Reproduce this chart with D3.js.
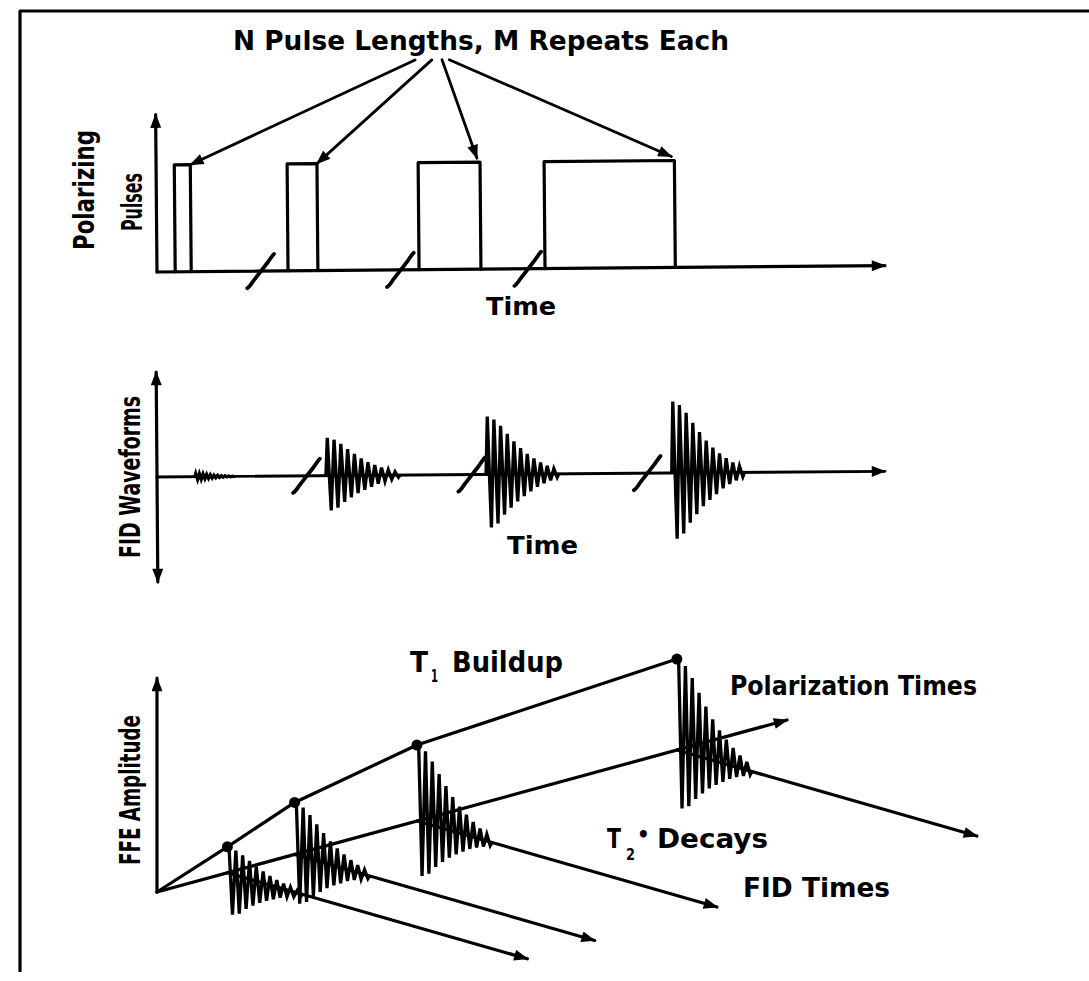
<!DOCTYPE html>
<html>
<head>
<meta charset="utf-8">
<script src="https://cdn.jsdelivr.net/npm/d3@7"></script>
<style>
body { margin: 0; background: #fff; }
svg { display: block; }
.ink { stroke: #000; fill: none; stroke-width: 3.2; stroke-linecap: round; stroke-linejoin: round; }
.wave { stroke: #000; fill: none; stroke-width: 3.3; stroke-linejoin: miter; }
text { font-family: 'DejaVu Sans Condensed', 'DejaVu Sans', 'Liberation Sans', Arial, sans-serif; font-stretch: condensed; font-weight: bold; fill: #000; }
</style>
</head>
<body>
<div id="fig"></div>
<script>
// Polarizing pulses (time units on the top axis)
var pulseStart = [2.5, 18.0, 36.0, 53.3],
    pulseLen   = [2.2, 4.1, 8.5, 17.9],
    pulseBreaks = [14.3, 33.5, 51.0],
    fanFrom    = [35.7, 38.0, 39.4, 40.4];   // where the title arrows leave

// FID waveforms (same time units)
var fidStart  = [5.2, 23.2, 45.2, 70.7],
    fidLen    = [5.5, 10.2, 10.0, 10.0],
    fidAmp    = [0.03, 0.36, 0.55, 0.68],
    fidBreaks = [20.6, 43.3, 67.4];

// FFE amplitude surface
var polTimes = [2.3, 4.5, 8.5, 17.0],
    t1Amp    = [0.26, 0.52, 0.76, 0.91],
    t2Neg    = [0.44, 0.52, 0.58, 0.62];

// decay envelope of one FID, half-cycle by half-cycle
var envelope = [1.0, 0.92, 0.95, 0.85, 0.84, 0.7, 0.7, 0.58, 0.57, 0.47, 0.45,
                0.38, 0.35, 0.3, 0.27, 0.22, 0.2, 0.16, 0.14, 0.11, 0.09, 0.06];

var width = 1089, height = 981;

var svg = d3.select('#fig').append('svg')
    .attr('width', width)
    .attr('height', height);

svg.append('rect').attr('width', width).attr('height', height).attr('fill', '#fff');

var defs = svg.append('defs');
defs.append('marker')
    .attr('id', 'ah')
    .attr('viewBox', '0 -5 13 10')
    .attr('refX', 12).attr('refY', 0)
    .attr('markerWidth', 15).attr('markerHeight', 11)
    .attr('markerUnits', 'userSpaceOnUse')
    .attr('orient', 'auto-start-reverse')
  .append('path')
    .attr('d', 'M0,-5L13,0L0,5Z')
    .attr('fill', '#000');

// frame of the scanned page
svg.append('path').attr('class', 'ink')
    .attr('d', 'M20,972V11H1089')
    .style('stroke-linecap', 'butt');

var line = d3.line();

function label(g, x, y, str, len, size, rot) {
  var t = g.append('text')
      .attr('text-anchor', rot ? 'middle' : 'start')
      .attr('font-size', size)
      .attr('textLength', len)
      .attr('lengthAdjust', len ? 'spacingAndGlyphs' : null)
      .text(str);
  if (rot) t.attr('transform', 'translate(' + x + ',' + y + ') rotate(-90)');
  else t.attr('x', x).attr('y', y);
  return t;
}

function breakMark(g, x, y) {
  g.append('path').attr('class', 'ink')
      .style('stroke-width', 3.8)
      .attr('transform', 'translate(' + x + ',' + y + ')')
      .attr('d', 'M-14,17C-12,16 -10,13 -8,10L7,-9C9,-12 11,-15 13,-17');
}

// ---------- Panel 1 : polarizing pulses ----------
var x1 = d3.scaleLinear().domain([0, 100]).range([157, 885]),
    y1 = d3.scaleLinear().domain([0, 1]).range([272, 165]);

var g1 = svg.append('g').attr('transform', 'rotate(-0.5,157,272)');

g1.append('path').attr('class', 'ink')
    .attr('d', line([[x1(0), y1(0)], [x1(0), y1(1.47)]]))
    .attr('marker-end', 'url(#ah)');
g1.append('path').attr('class', 'ink')
    .attr('d', line([[x1(0), y1(0)], [x1(100), y1(0)]]))
    .attr('marker-end', 'url(#ah)');

g1.selectAll('.pulse')
  .data(pulseStart)
  .enter().append('path')
    .attr('class', 'ink pulse')
    .attr('d', function(d, i) {
      return line([[x1(d), y1(0)], [x1(d), y1(1)],
                   [x1(d + pulseLen[i]), y1(1)], [x1(d + pulseLen[i]), y1(0)]]);
    });

pulseBreaks.forEach(function(b) { breakMark(g1, x1(b), y1(0)); });

g1.selectAll('.fan')
  .data(fanFrom)
  .enter().append('path')
    .attr('class', 'ink fan')
    .style('stroke-width', 2.8)
    .attr('d', function(d, i) {
      var ex = x1(pulseStart[i] + pulseLen[i]) - (i > 1 ? 3 : 0),
          ey = y1(1) - (i > 1 ? 4 : 0);
      return line([[x1(d), y1(1.96)], [ex, ey]]);
    })
    .attr('marker-end', 'url(#ah)');

label(svg, 233, 50, 'N Pulse Lengths, M Repeats Each', 496, 27);
label(svg, 486, 315, 'Time', 70, 25);
label(svg, 94, 190, 'Polarizing', 120, 28, true);
label(svg, 142, 202, 'Pulses', 58, 28, true);

// ---------- Panel 2 : FID waveforms ----------
var x2 = d3.scaleLinear().domain([0, 100]).range([157, 885]),
    y2 = d3.scaleLinear().domain([-1, 1]).range([582, 372]);

var g2 = svg.append('g').attr('transform', 'rotate(-0.45,157,477)');

g2.append('path').attr('class', 'ink')
    .attr('d', line([[x2(0), y2(-1)], [x2(0), y2(1)]]))
    .attr('marker-start', 'url(#ah)')
    .attr('marker-end', 'url(#ah)');
g2.append('path').attr('class', 'ink')
    .style('stroke-width', 2.8)
    .attr('d', line([[x2(0), y2(0)], [x2(100), y2(0)]]))
    .attr('marker-end', 'url(#ah)');

function burst2(d, i) {
  var n = envelope.length, pts = [[x2(d), y2(0)]];
  envelope.forEach(function(e, k) {
    var s = d + (k + 0.5) / n * fidLen[i];
    pts.push([x2(s), y2((k % 2 ? -1 : 1) * fidAmp[i] * e)]);
  });
  pts.push([x2(d + fidLen[i]), y2(0)]);
  return line(pts);
}

g2.selectAll('.fid')
  .data(fidStart)
  .enter().append('path')
    .attr('class', 'wave fid')
    .attr('d', burst2);

fidBreaks.forEach(function(b) { breakMark(g2, x2(b), y2(0)); });

label(svg, 507, 554, 'Time', 71, 25);
label(svg, 140, 477, 'FID Waveforms', 162, 28, true);

// ---------- Panel 3 : FFE amplitude ----------
var origin = [157, 892];
var pol = d3.scaleLinear().domain([0, 20.6]).range([0, 1]),   // along (630,-172)
    fid = d3.scaleLinear().domain([0, 1]).range([0, 1]),      // along (300, 86)
    amp = d3.scaleLinear().domain([0, 1]).range([0, 100]);

function proj(p, f, a) {
  var u = pol(p), v = fid(f);
  return [origin[0] + u * 630 + v * 300,
          origin[1] - u * 172 + v * 86 - amp(a)];
}

var g3 = svg.append('g');

g3.append('path').attr('class', 'ink')
    .attr('d', line([proj(0, 0, 0), proj(0, 0, 2.14)]))
    .attr('marker-end', 'url(#ah)');
g3.append('path').attr('class', 'ink')
    .attr('d', line([proj(0, 0, 0), proj(20.6, 0, 0)]))
    .attr('marker-end', 'url(#ah)');

g3.selectAll('.fidaxis')
  .data(polTimes)
  .enter().append('path')
    .attr('class', 'ink fidaxis')
    .attr('d', function(p) { return line([proj(p, 0, 0), proj(p, 1, 0)]); })
    .attr('marker-end', 'url(#ah)');

g3.append('path').attr('class', 'ink')
    .attr('d', line([proj(0, 0, 0)].concat(polTimes.map(function(p, i) {
      return proj(p, 0, t1Amp[i]);
    }))));

var fidDur = 0.25;
g3.selectAll('.decay')
  .data(polTimes)
  .enter().append('path')
    .attr('class', 'wave decay')
    .attr('d', function(p, i) {
      var n = envelope.length, pts = [proj(p, 0, t1Amp[i])];
      envelope.forEach(function(e, k) {
        var f = (k + 0.5) / n * fidDur;
        pts.push(proj(p, f, k % 2 ? -t2Neg[i] * e : t1Amp[i] * e));
      });
      pts.push(proj(p, fidDur, 0));
      return line(pts);
    });

g3.selectAll('.dot')
  .data(polTimes)
  .enter().append('circle')
    .attr('class', 'dot')
    .attr('r', 5.5)
    .attr('cx', function(p, i) { return proj(p, 0, t1Amp[i])[0]; })
    .attr('cy', function(p, i) { return proj(p, 0, t1Amp[i])[1]; })
    .attr('fill', '#000');

label(svg, 410, 672, 'T', 18, 29);
label(svg, 431, 682, '1', 7, 17);
label(svg, 452, 672, 'Buildup', 111, 29);
label(svg, 730, 695, 'Polarization Times', 247, 27);
label(svg, 607, 848, 'T', 14, 26);
label(svg, 626, 860, '2', 9, 16);
label(svg, 637, 842, '•', null, 22);
label(svg, 657, 848, 'Decays', 111, 26);
label(svg, 743, 897, 'FID Times', 147, 26);
label(svg, 140, 790, 'FFE Amplitude', 150, 28, true);
</script>
</body>
</html>
